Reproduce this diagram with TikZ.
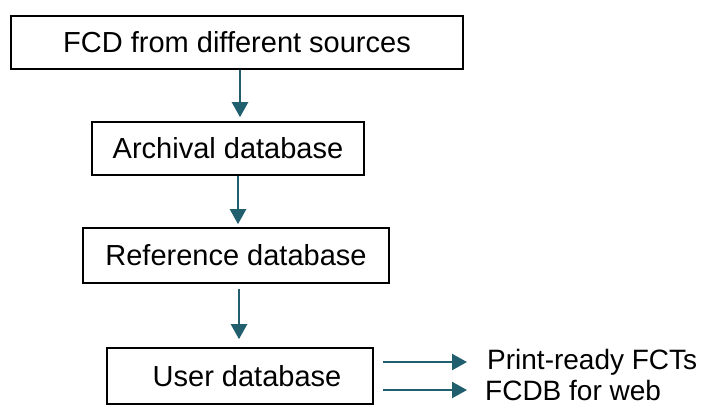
\documentclass[tikz,border=0pt]{standalone}
\usepackage{fontspec}
\setmainfont{Liberation Sans}
\usetikzlibrary{arrows.meta}
\definecolor{teal}{HTML}{215E6E}
\begin{document}
\begin{tikzpicture}[x=1pt,y=-1pt,
  box/.style={draw=black,line width=1.6pt,inner sep=0pt,font=\fontsize{29}{34}\selectfont},
  lab/.style={inner sep=0pt,anchor=west,font=\fontsize{28}{33}\selectfont},
  arr/.style={draw=teal,line width=2.3pt,-{Triangle[length=15pt,width=16pt]}}]
\useasboundingbox (0,0) rectangle (711,405);
\node[box,minimum width=452pt,minimum height=53pt] (b1) at (237,42.5) {FCD from different sources};
\node[box,minimum width=272pt,minimum height=53pt] (b2) at (228,148.5) {Archival database};
\node[box,minimum width=306pt,minimum height=55pt] (b3) at (236,255.5) {Reference database};
\node[box,minimum width=266pt,minimum height=56pt] (b4) at (240,376) {\hspace{14pt}User database};
\node[lab] (l1) at (487,362) {Print-ready FCTs};
\node[lab] (l2) at (485,390) {FCDB for web};
\draw[arr,shorten >=4pt] ([xshift=3pt]b1.south) -- ([xshift=3pt]b1.south |- b2.north);
\draw[arr,shorten >=3pt] ([xshift=10pt]b2.south) -- ([xshift=10pt]b2.south |- b3.north);
\draw[arr,shorten <=5pt,shorten >=8pt] ([xshift=3pt]b3.south) -- ([xshift=3pt]b3.south |- b4.north);
\draw[arr,shorten <=9pt,shorten >=20pt] (b4.east |- l1.west) -- (l1.west);
\draw[arr,shorten <=9pt,shorten >=18pt] (b4.east |- l2.west) -- (l2.west);
\end{tikzpicture}
\end{document}
